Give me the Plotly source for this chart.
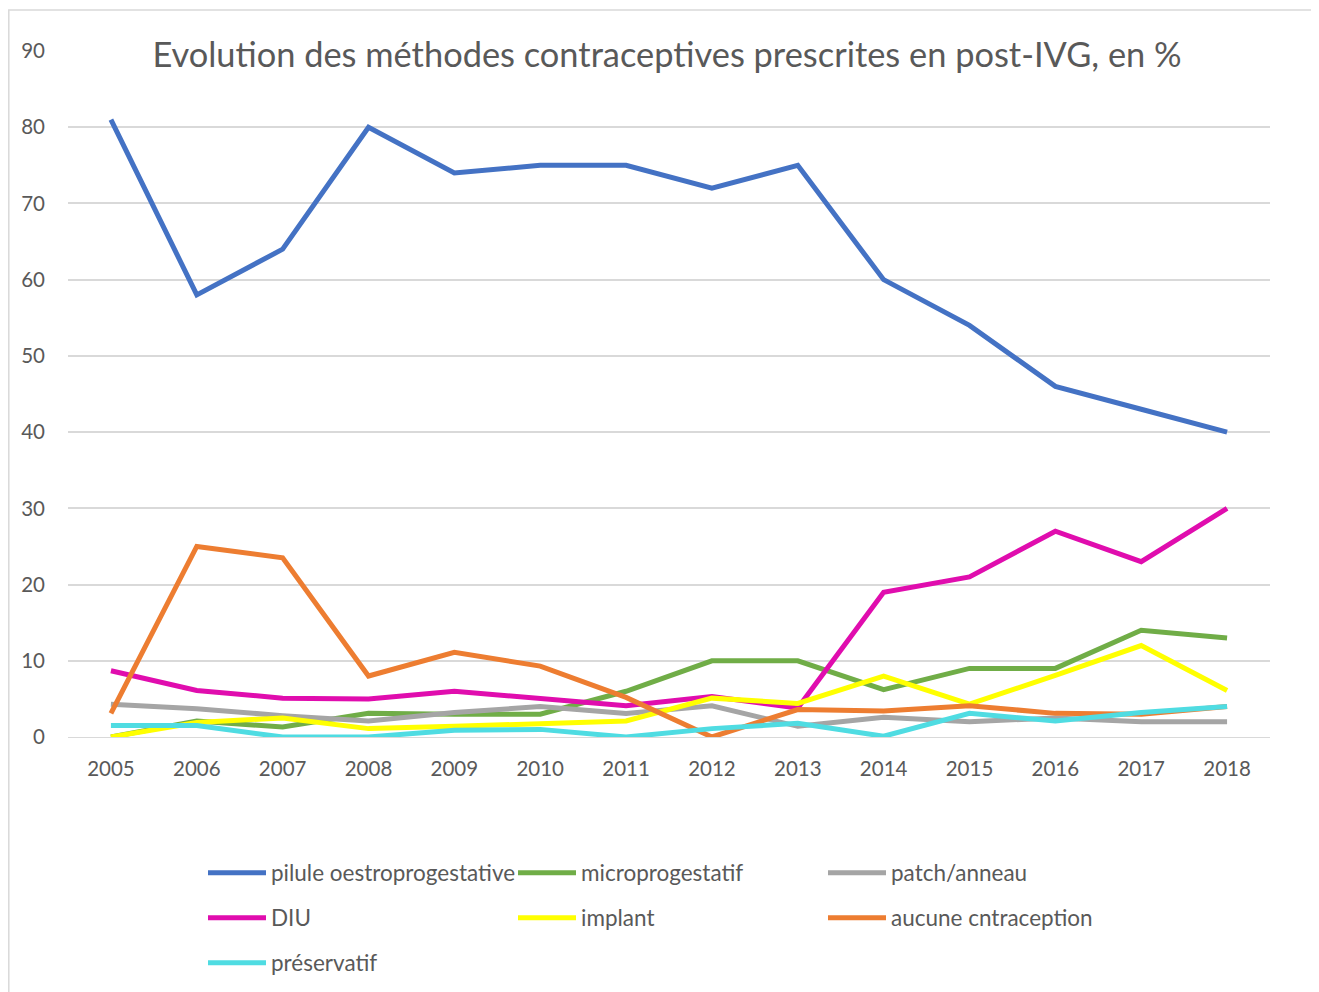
import plotly.graph_objects as go

years = [str(y) for y in range(2005, 2019)]

pilule = [81, 58, 64, 80, 74, 75, 75, 72, 75, 60, 54, 46, 43, 40]
micro = [0, 2.1, 1.3, 3.1, 3, 3, 6, 10, 10, 6.2, 9, 9, 14, 13]
patch = [4.3, 3.7, 2.8, 2.1, 3.2, 4.0, 3.1, 4.1, 1.4, 2.6, 2.0, 2.5, 2, 2]
diu = [8.7, 6.1, 5.1, 5, 6, 5.1, 4.1, 5.3, 3.8, 19, 21, 27, 23, 30]
implant = [0, 1.9, 2.5, 1.1, 1.4, 1.7, 2.1, 5.1, 4.4, 8, 4.3, 8.1, 12, 6.1]
aucune = [3.1, 25, 23.5, 8, 11.1, 9.3, 5.2, 0, 3.6, 3.4, 4.1, 3.1, 3, 4]
preservatif = [1.5, 1.5, 0, 0, 0.9, 1.0, 0, 1.1, 1.8, 0.1, 3.1, 2.1, 3.2, 4]

series = [
    ("pilule oestroprogestative", pilule, "#4472C4", "legend"),
    ("microprogestatif", micro, "#70AD47", "legend"),
    ("patch/anneau", patch, "#A5A5A5", "legend"),
    ("DIU", diu, "#E00DAE", "legend2"),
    ("implant", implant, "#FFFF00", "legend2"),
    ("aucune cntraception", aucune, "#ED7D31", "legend2"),
    ("préservatif", preservatif, "#4FDCE2", "legend3"),
]

fig = go.Figure()
for name, vals, col, lg in series:
    fig.add_trace(go.Scatter(
        x=years, y=vals, name=name, mode="lines", legend=lg,
        line=dict(color=col, width=5),
    ))

OFF = 8  # page body margin
W, H = 1319 - OFF, 992 - OFF
L, R, T, B = 68 - OFF, 1270 - OFF, 51 - OFF, 737 - OFF
pw, ph = R - L, B - T

def px_x(x):
    return (x - OFF - L) / pw

def px_y(y):
    return (B - (y - OFF)) / ph

def cx(x):
    return (x - OFF) / W

def cy(y):
    return 1 - (y - OFF) / H

legend_common = dict(
    orientation="h", xref="container", yref="container",
    x=cx(203), xanchor="left", yanchor="middle",
    entrywidth=237, entrywidthmode="pixels",
    itemwidth=58, font=dict(size=22.5, color="#595959"),
    bgcolor="rgba(0,0,0,0)",
)

fig.update_layout(
    width=W, height=H,
    margin=dict(l=L, r=W - R, t=T, b=H - B, autoexpand=False),
    paper_bgcolor="white", plot_bgcolor="white",
    font=dict(family="Lato, 'Open Sans', sans-serif", color="#595959", size=20),
    title=dict(
        text="Evolution des méthodes contraceptives prescrites en post-IVG, en %",
        x=cx(667), xanchor="center", xref="container",
        y=cy(55), yanchor="middle", yref="container",
        font=dict(size=34.4, color="#595959"),
    ),
    xaxis=dict(
        type="category", range=[-0.5, 13.5], showgrid=False, zeroline=False,
        showline=True, linecolor="#D9D9D9", linewidth=1,
        ticks="", tickfont=dict(size=20.5, color="#595959"),
        ticklabelstandoff=13,
    ),
    yaxis=dict(
        range=[0, 90], dtick=10, tick0=0, showgrid=True, gridcolor="#D9D9D9",
        gridwidth=1.5, zeroline=False, showline=False, ticks="",
        tickfont=dict(size=20.5, color="#595959"), ticklabelstandoff=22,
    ),
    legend=dict(legend_common, y=cy(873)),
    legend2=dict(legend_common, y=cy(918)),
    legend3=dict(legend_common, y=cy(963)),
    showlegend=True,
    shapes=[dict(
        type="rect", xref="paper", yref="paper",
        x0=px_x(8.8), x1=px_x(1340), y0=px_y(1010), y1=px_y(10),
        line=dict(color="#D9D9D9", width=1.5), fillcolor="rgba(0,0,0,0)",
        layer="below",
    )],
)

fig.write_html("out.html")
